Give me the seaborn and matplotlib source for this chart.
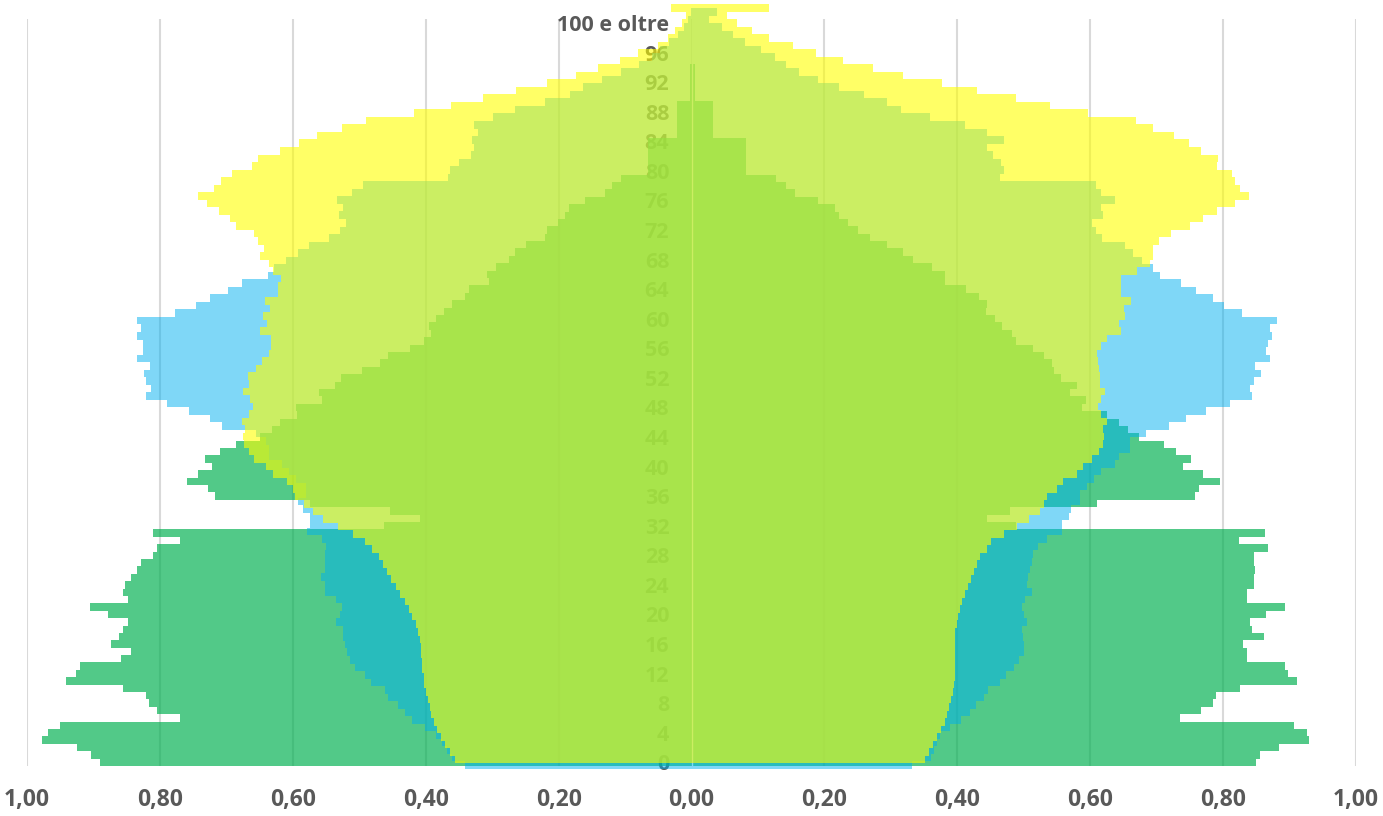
import matplotlib
matplotlib.use("Agg")
import matplotlib.pyplot as plt
import seaborn as sns
import pandas as pd

# ---------------- data ----------------
AGES = list(range(101))
AGE_TICKS = list(range(0, 101, 4))
AGE_TICK_LABELS = [str(a) for a in AGE_TICKS[:-1]] + ["100 e oltre"]
X_TICKS = [-1.0, -0.8, -0.6, -0.4, -0.2, 0.0, 0.2, 0.4, 0.6, 0.8, 1.0]

# series drawn in green (bottom layer)
G_LEFT = [0.890, 0.903, 0.925, 0.978, 0.968, 0.951, 0.769, 0.805, 0.817, 0.821,
          0.856, 0.942, 0.927, 0.920, 0.858, 0.843, 0.873, 0.861, 0.856, 0.848,
          0.878, 0.905, 0.848, 0.856, 0.852, 0.843, 0.835, 0.828, 0.810, 0.804,
          0.769, 0.810, 0.463, 0.408, 0.454, 0.574, 0.717, 0.728, 0.759, 0.743,
          0.721, 0.732, 0.710, 0.686, 0.650, 0.631, 0.620, 0.594, 0.595, 0.556,
          0.560, 0.536, 0.527, 0.496, 0.469, 0.456, 0.424, 0.402, 0.392, 0.395,
          0.384, 0.373, 0.361, 0.341, 0.335, 0.305, 0.307, 0.294, 0.275, 0.265,
          0.249, 0.221, 0.218, 0.201, 0.191, 0.185, 0.160, 0.130, 0.120, 0.106,
          0.065, 0.065, 0.065, 0.065, 0.065, 0.022, 0.022, 0.022, 0.022, 0.022,
          0.003, 0.003, 0.003, 0.003, 0.003, 0.0, 0.0, 0.0, 0.0, 0.0, 0.0]
G_RIGHT = [0.850, 0.856, 0.884, 0.930, 0.926, 0.906, 0.735, 0.767, 0.785, 0.789,
           0.825, 0.911, 0.897, 0.893, 0.836, 0.836, 0.830, 0.861, 0.844, 0.840,
           0.865, 0.893, 0.836, 0.836, 0.846, 0.846, 0.848, 0.846, 0.846, 0.868,
           0.824, 0.863, 0.488, 0.444, 0.480, 0.610, 0.758, 0.763, 0.795, 0.769,
           0.739, 0.752, 0.729, 0.711, 0.673, 0.657, 0.644, 0.625, 0.587, 0.593,
           0.569, 0.580, 0.556, 0.545, 0.543, 0.531, 0.514, 0.489, 0.482, 0.468,
           0.456, 0.443, 0.445, 0.433, 0.413, 0.382, 0.382, 0.362, 0.333, 0.318,
           0.294, 0.269, 0.251, 0.236, 0.222, 0.216, 0.191, 0.156, 0.142, 0.127,
           0.082, 0.082, 0.082, 0.082, 0.082, 0.033, 0.033, 0.033, 0.033, 0.033,
           0.006, 0.006, 0.006, 0.006, 0.006, 0.0, 0.0, 0.0, 0.0, 0.0, 0.0]

# series drawn in blue (middle layer)
B_LEFT = [0.341, 0.360, 0.368, 0.375, 0.384, 0.401, 0.420, 0.431, 0.442, 0.456,
          0.462, 0.483, 0.491, 0.506, 0.514, 0.519, 0.521, 0.524, 0.525, 0.535,
          0.529, 0.526, 0.535, 0.551, 0.551, 0.558, 0.551, 0.551, 0.551, 0.550,
          0.556, 0.579, 0.574, 0.574, 0.585, 0.592, 0.580, 0.580, 0.595, 0.606,
          0.616, 0.636, 0.636, 0.640, 0.655, 0.706, 0.725, 0.756, 0.790, 0.821,
          0.813, 0.821, 0.824, 0.815, 0.835, 0.826, 0.825, 0.834, 0.828, 0.835,
          0.777, 0.745, 0.725, 0.698, 0.676, 0.638, 0.628, 0.610, 0.592, 0.576,
          0.546, 0.529, 0.520, 0.530, 0.524, 0.534, 0.511, 0.494, 0.367, 0.363,
          0.350, 0.332, 0.327, 0.330, 0.322, 0.327, 0.299, 0.265, 0.221, 0.183,
          0.163, 0.134, 0.106, 0.079, 0.059, 0.047, 0.034, 0.021, 0.012, 0.006, 0.001]
B_RIGHT = [0.332, 0.360, 0.365, 0.370, 0.374, 0.389, 0.405, 0.419, 0.428, 0.440,
           0.446, 0.465, 0.473, 0.485, 0.493, 0.500, 0.500, 0.499, 0.498, 0.505,
           0.500, 0.497, 0.502, 0.512, 0.505, 0.507, 0.510, 0.513, 0.514, 0.522,
           0.535, 0.557, 0.557, 0.568, 0.571, 0.584, 0.584, 0.595, 0.606, 0.617,
           0.638, 0.643, 0.660, 0.660, 0.684, 0.719, 0.744, 0.775, 0.811, 0.843,
           0.840, 0.846, 0.857, 0.848, 0.870, 0.864, 0.868, 0.873, 0.870, 0.881,
           0.829, 0.802, 0.785, 0.759, 0.737, 0.705, 0.695, 0.678, 0.665, 0.652,
           0.618, 0.608, 0.602, 0.619, 0.617, 0.638, 0.616, 0.609, 0.464, 0.470,
           0.466, 0.453, 0.444, 0.471, 0.445, 0.411, 0.359, 0.315, 0.294, 0.259,
           0.222, 0.191, 0.162, 0.142, 0.125, 0.105, 0.081, 0.062, 0.046, 0.026, 0.038]

# series drawn in yellow (top layer)
Y_LEFT = [0.356, 0.363, 0.371, 0.377, 0.383, 0.388, 0.392, 0.394, 0.397, 0.400,
          0.402, 0.403, 0.405, 0.406, 0.407, 0.407, 0.409, 0.411, 0.415, 0.420,
          0.425, 0.431, 0.438, 0.445, 0.452, 0.458, 0.464, 0.471, 0.481, 0.491,
          0.509, 0.532, 0.554, 0.569, 0.583, 0.596, 0.599, 0.608, 0.630, 0.641,
          0.658, 0.666, 0.673, 0.675, 0.672, 0.677, 0.666, 0.660, 0.665, 0.675,
          0.666, 0.668, 0.655, 0.647, 0.636, 0.633, 0.633, 0.650, 0.639, 0.645,
          0.634, 0.642, 0.623, 0.623, 0.618, 0.630, 0.636, 0.649, 0.643, 0.652,
          0.659, 0.685, 0.694, 0.711, 0.729, 0.742, 0.719, 0.708, 0.691, 0.662,
          0.652, 0.620, 0.590, 0.563, 0.526, 0.490, 0.418, 0.362, 0.314, 0.264,
          0.218, 0.174, 0.140, 0.108, 0.080, 0.050, 0.035, 0.025, 0.015, 0.008, 0.031]
Y_RIGHT = [0.351, 0.358, 0.364, 0.369, 0.375, 0.381, 0.385, 0.387, 0.390, 0.393,
           0.395, 0.397, 0.397, 0.397, 0.397, 0.397, 0.397, 0.397, 0.399, 0.401,
           0.404, 0.407, 0.412, 0.416, 0.420, 0.425, 0.430, 0.434, 0.445, 0.450,
           0.470, 0.490, 0.508, 0.524, 0.530, 0.535, 0.550, 0.559, 0.580, 0.589,
           0.603, 0.613, 0.620, 0.621, 0.619, 0.626, 0.616, 0.612, 0.617, 0.623,
           0.615, 0.614, 0.613, 0.612, 0.610, 0.616, 0.626, 0.647, 0.644, 0.652,
           0.651, 0.661, 0.647, 0.647, 0.647, 0.671, 0.690, 0.695, 0.695, 0.703,
           0.722, 0.750, 0.769, 0.791, 0.818, 0.839, 0.825, 0.818, 0.814, 0.791,
           0.793, 0.767, 0.748, 0.726, 0.694, 0.669, 0.596, 0.539, 0.488, 0.430,
           0.377, 0.318, 0.273, 0.228, 0.187, 0.152, 0.116, 0.091, 0.069, 0.054, 0.117]

# ---------------- figure ----------------
sns.set_theme(style="white")
plt.rcParams["font.family"] = ["Open Sans", "DejaVu Sans"]

W, H = 1383, 816
fig = plt.figure(figsize=(W / 100, H / 100), dpi=100)
fig.patch.set_facecolor("white")


def layer_axes(top_px, bottom_px):
    return fig.add_axes([27 / W, 1 - bottom_px / H, 1329 / W, (bottom_px - top_px) / H])


ax_g = layer_axes(19.3, 766.0)
ax_b = layer_axes(8.0, 769.0)
ax_y = layer_axes(4.2, 763.3)

layers = [
    (ax_g, G_LEFT, G_RIGHT, "#00B050", 0.68),
    (ax_b, B_LEFT, B_RIGHT, "#00B0F0", 0.50),
    (ax_y, Y_LEFT, Y_RIGHT, "#FFFF00", 0.60),
]

for ax, left, right, color, alpha in layers:
    df_l = pd.DataFrame({"age": AGES, "value": [-v for v in left]})
    df_r = pd.DataFrame({"age": AGES, "value": list(right)})
    for df in (df_l, df_r):
        sns.barplot(data=df, x="value", y="age", orient="h", native_scale=True,
                    width=1.0, color=color, alpha=alpha, saturation=1,
                    linewidth=0, errorbar=None, ax=ax)
    ax.set_xlim(-1, 1)
    ax.set_ylim(-0.5, 100.5)
    ax.set_xlabel("")
    ax.set_ylabel("")

for ax in (ax_b, ax_y):
    ax.axis("off")

# main (green) axes: grid, ticks, labels
ax_g.set_axisbelow(True)
ax_g.grid(axis="x", color="#d9d9d9", linewidth=1.5)
ax_g.grid(axis="y", visible=False)
ax_g.axvline(0, color="white", linewidth=1.0, zorder=1.5)
for s in ax_g.spines.values():
    s.set_visible(False)
ax_g.spines["left"].set_position(("data", 0))

ax_g.set_xticks(X_TICKS)
ax_g.set_xticklabels([f"{abs(v):.2f}".replace(".", ",") for v in X_TICKS])
ax_g.set_yticks(AGE_TICKS)
ax_g.set_yticklabels(AGE_TICK_LABELS)
ax_g.tick_params(axis="x", length=0, pad=16, labelsize=16.5, labelcolor="#595959")
ax_g.tick_params(axis="y", length=0, pad=16, labelsize=15.5, labelcolor="#595959")
for lab in ax_g.get_xticklabels() + ax_g.get_yticklabels():
    lab.set_fontweight("bold")

fig.savefig("out.png", dpi=100, facecolor="white")
